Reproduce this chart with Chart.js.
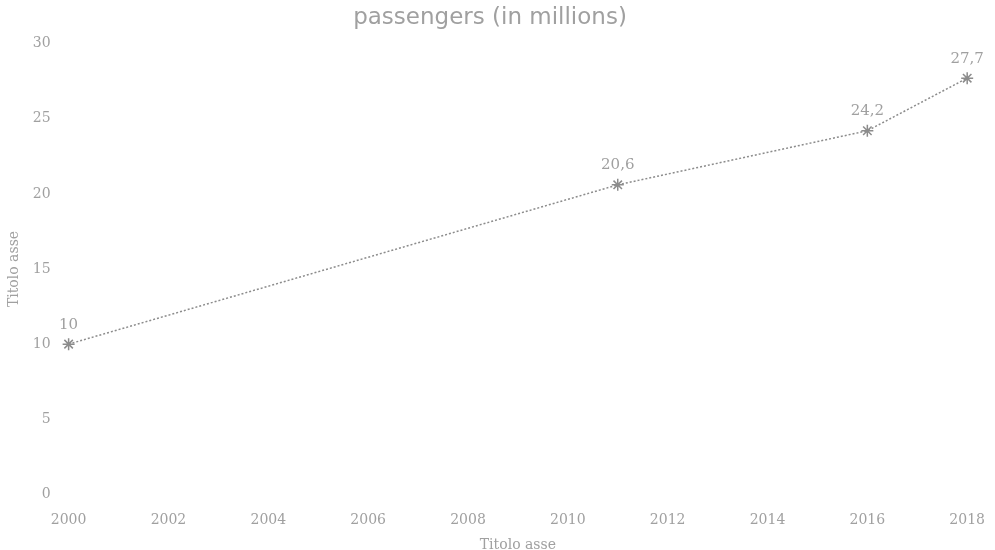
<!DOCTYPE html>
<html>
<head>
<meta charset="utf-8">
<script src="https://cdn.jsdelivr.net/npm/chart.js@4"></script>
<style>
  html, body { margin: 0; padding: 0; background: #fff; }
  #wrap { width: 995px; height: 550px; }
</style>
</head>
<body>
<div id="wrap"><canvas id="chart"></canvas></div>
<script>
// dati
const years = [2000, 2011, 2016, 2018];
const passengers = [10, 20.6, 24.2, 27.7];
const chartTitle = "passengers (in millions)";
const axisTitle = "Titolo asse";

const textColor = "#a0a0a0";
const lineColor = "#8c8c8c";

// etichette dati sopra ai punti, con la virgola decimale
const pointLabels = {
  id: "pointLabels",
  afterDatasetsDraw(chart) {
    const ctx = chart.ctx;
    const meta = chart.getDatasetMeta(0);
    ctx.save();
    ctx.fillStyle = textColor;
    ctx.font = "15px 'DejaVu Serif'";
    ctx.textAlign = "center";
    ctx.textBaseline = "bottom";
    meta.data.forEach((pt, i) => {
      const txt = String(passengers[i]).replace(".", ",");
      ctx.fillText(txt, pt.x, pt.y - 12);
    });
    ctx.restore();
  }
};

new Chart(document.getElementById("chart"), {
  type: "line",
  data: {
    datasets: [{
      data: years.map((y, i) => ({ x: y, y: passengers[i] })),
      borderColor: lineColor,
      borderWidth: 1.5,
      borderDash: [2, 2],
      pointStyle: "star",
      pointRadius: 6,
      pointBorderWidth: 1.5,
      pointBorderColor: lineColor,
      pointBackgroundColor: lineColor,
      fill: false,
      tension: 0,
      clip: false
    }]
  },
  options: {
    responsive: true,
    maintainAspectRatio: false,
    animation: false,
    layout: { padding: { left: 6, right: 21, top: 4, bottom: 0 } },
    scales: {
      x: {
        type: "linear",
        min: 2000,
        max: 2018,
        ticks: { stepSize: 2, color: textColor, font: { family: "DejaVu Serif", size: 14 }, maxRotation: 0,
                 padding: 10, callback: v => String(v) },
        grid: { display: false },
        border: { display: false },
        title: { display: true, text: axisTitle, color: textColor, font: { family: "DejaVu Serif", size: 14 },
                 padding: { top: -2, bottom: -4 } }
      },
      y: {
        min: 0,
        max: 30,
        ticks: { stepSize: 5, color: textColor, font: { family: "DejaVu Serif", size: 14 }, padding: 10 },
        grid: { display: false },
        border: { display: false },
        title: { display: true, text: axisTitle, color: textColor, font: { family: "DejaVu Serif", size: 14 }, padding: 0 }
      }
    },
    plugins: {
      legend: { display: false },
      tooltip: { enabled: false },
      title: {
        display: true,
        text: chartTitle,
        color: textColor,
        font: { family: "DejaVu Sans", size: 23, weight: "normal" },
        padding: { top: 0, bottom: 12 }
      }
    }
  },
  plugins: [pointLabels]
});
</script>
</body>
</html>
